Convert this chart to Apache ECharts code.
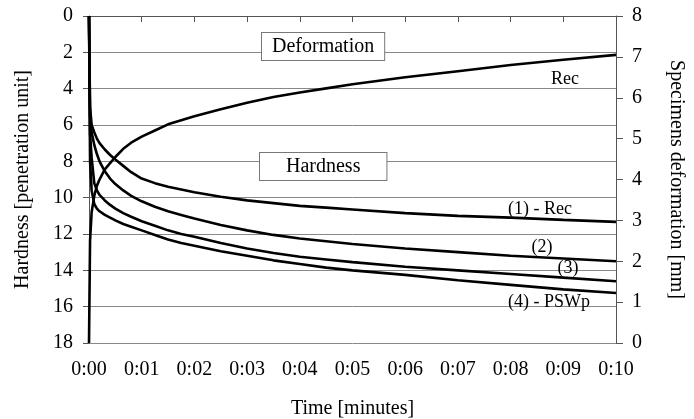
<!DOCTYPE html>
<html>
<head>
<meta charset="utf-8">
<script src="https://cdn.jsdelivr.net/npm/echarts@6/dist/echarts.min.js"></script>
<style>html,body{margin:0;padding:0;background:#fff}#c{width:694px;height:419px}</style>
</head>
<body>
<div id="c"></div>
<script>
// Time in minutes
const times = [0, 0.02, 0.05, 0.1, 0.15, 0.2, 0.3, 0.4, 0.5, 0.65, 0.8, 1, 1.25, 1.5, 1.75, 2, 2.5, 3, 3.5, 4, 4.5, 5, 6, 7, 8, 9, 10];
// Hardness curves [penetration unit] (left axis)
const hardness1 = [0, 5.0, 6.0, 6.4, 6.75, 7.0, 7.35, 7.65, 7.9, 8.25, 8.6, 8.95, 9.2, 9.4, 9.55, 9.7, 9.95, 10.15, 10.3, 10.45, 10.55, 10.65, 10.85, 11.0, 11.1, 11.22, 11.33];
const hardness2 = [0, 5.5, 6.4, 7.1, 7.6, 8.0, 8.55, 8.95, 9.25, 9.6, 9.9, 10.2, 10.5, 10.75, 10.95, 11.15, 11.5, 11.8, 12.05, 12.25, 12.4, 12.55, 12.8, 13.0, 13.2, 13.35, 13.5];
const hardness3 = [0, 6.5, 7.8, 9.2, 9.6, 9.85, 10.15, 10.4, 10.6, 10.85, 11.05, 11.3, 11.55, 11.8, 12.0, 12.15, 12.5, 12.8, 13.05, 13.25, 13.4, 13.55, 13.8, 14.0, 14.2, 14.4, 14.6];
const hardness4 = [0, 8.0, 9.6, 10.35, 10.6, 10.75, 10.95, 11.1, 11.25, 11.45, 11.6, 11.8, 12.05, 12.3, 12.5, 12.65, 12.95, 13.2, 13.45, 13.65, 13.85, 14.0, 14.25, 14.55, 14.8, 15.05, 15.25];
// Specimen deformation [mm] (right axis)
const deformation = [0, 2.5, 3.2, 3.6, 3.85, 4.0, 4.25, 4.4, 4.55, 4.75, 4.9, 5.05, 5.2, 5.35, 5.45, 5.55, 5.72, 5.88, 6.02, 6.13, 6.23, 6.33, 6.5, 6.65, 6.8, 6.93, 7.05];
// Tick labels
const xTickLabels = ['0:00','0:01','0:02','0:03','0:04','0:05','0:06','0:07','0:08','0:09','0:10'];

const FONT = 'Liberation Serif';
const pair = arr => times.map((t, i) => [t, arr[i]]);
const lineStyle = {color: '#000', width: 2.6};
function mk(name, arr, yIdx) {
  return {
    name, type: 'line', yAxisIndex: yIdx, data: pair(arr),
    showSymbol: false, symbol: 'none', smooth: false,
    lineStyle, itemStyle: {color: '#000'}, animation: false
  };
}
const chart = echarts.init(document.getElementById('c'), null, {renderer: 'canvas'});
chart.setOption({
  animation: false,
  grid: {left: 89, right: 78, top: 16, bottom: 76, containLabel: false, outerBoundsMode: 'none'},
  xAxis: {
    type: 'value', min: 0, max: 10, interval: 1,
    name: 'Time [minutes]', nameLocation: 'middle', nameGap: 56,
    nameTextStyle: {fontFamily: FONT, fontSize: 20, color: '#000'},
    axisLine: {lineStyle: {color: '#555', width: 1}},
    axisTick: {show: true, inside: false, length: 6, lineStyle: {color: '#555'}},
    axisLabel: {fontFamily: FONT, fontSize: 20, color: '#000', margin: 17,
      formatter: v => xTickLabels[Math.round(v)]},
    splitLine: {show: false}
  },
  yAxis: [{
    type: 'value', min: 0, max: 18, interval: 2, inverse: true, position: 'left',
    name: 'Hardness [penetration unit]', nameLocation: 'middle', nameGap: 56, nameRotate: 90,
    nameTextStyle: {fontFamily: FONT, fontSize: 20, color: '#000'},
    axisLine: {show: true, lineStyle: {color: '#555', width: 1}},
    axisTick: {show: true, inside: false, length: 6, lineStyle: {color: '#555'}},
    axisLabel: {fontFamily: FONT, fontSize: 20, color: '#000', margin: 16},
    splitLine: {show: true, lineStyle: {color: '#888', width: 1}}
  }, {
    type: 'value', min: 0, max: 8, interval: 1, position: 'right',
    name: 'Specimens deformation [mm]', nameLocation: 'middle', nameGap: 50, nameRotate: -90,
    nameTextStyle: {fontFamily: FONT, fontSize: 20, color: '#000'},
    axisLine: {show: true, lineStyle: {color: '#555', width: 1}},
    axisTick: {show: true, inside: false, length: 7, lineStyle: {color: '#555'}},
    axisLabel: {fontFamily: FONT, fontSize: 20, color: '#000', margin: 16},
    splitLine: {show: false}
  }],
  series: [
    mk('(1) - Rec', hardness1, 0),
    mk('(2)', hardness2, 0),
    mk('(3)', hardness3, 0),
    mk('(4) - PSWp', hardness4, 0),
    mk('Rec', deformation, 1)
  ],
  graphic: [
    {type: 'text', left: 261, top: 32, z: 100, style: {text: 'Deformation', font: '20px "Liberation Serif"', fill: '#000', backgroundColor: '#fff', borderColor: '#777', borderWidth: 1, padding: [4, 10, 3, 10]}},
    {type: 'text', left: 259, top: 152, z: 100, style: {text: 'Hardness', font: '20px "Liberation Serif"', fill: '#000', backgroundColor: '#fff', borderColor: '#777', borderWidth: 1, padding: [4, 26, 3, 26]}},
    {type: 'text', x: 565, y: 79, z: 100, style: {text: 'Rec', font: '18px "Liberation Serif"', fill: '#000', align: 'center', verticalAlign: 'middle'}},
    {type: 'text', x: 540, y: 209, z: 100, style: {text: '(1) - Rec', font: '18px "Liberation Serif"', fill: '#000', align: 'center', verticalAlign: 'middle'}},
    {type: 'text', x: 542, y: 247, z: 100, style: {text: '(2)', font: '18px "Liberation Serif"', fill: '#000', align: 'center', verticalAlign: 'middle'}},
    {type: 'text', x: 568, y: 268, z: 100, style: {text: '(3)', font: '18px "Liberation Serif"', fill: '#000', align: 'center', verticalAlign: 'middle'}},
    {type: 'text', x: 549, y: 302, z: 100, style: {text: '(4) - PSWp', font: '18px "Liberation Serif"', fill: '#000', align: 'center', verticalAlign: 'middle'}}
  ]
});
</script>
</body>
</html>
